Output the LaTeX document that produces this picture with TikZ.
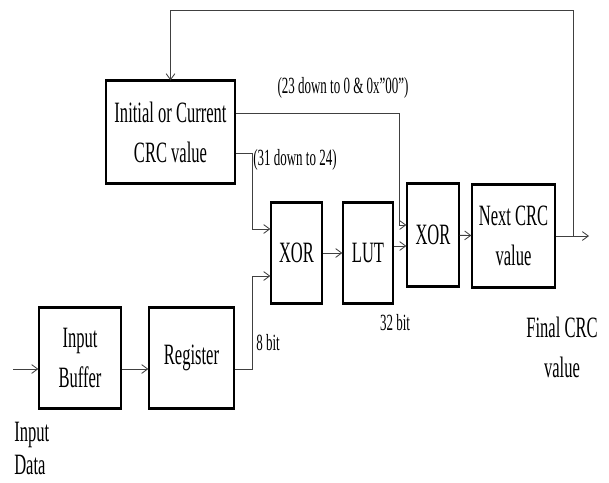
\documentclass[tikz,border=0pt]{standalone}
\usepackage{fontspec}
\setmainfont[FakeStretch=0.56]{Liberation Serif}
\usetikzlibrary{arrows.meta, calc, positioning}

\begin{document}
\begin{tikzpicture}[x=0.025cm, y=-0.025cm, font=\fontsize{21}{28.5}\selectfont,
	blk/.style={rectangle, draw=black, line width=0.9pt, minimum height=25mm, align=center, inner sep=1pt},
	fl/.style={-{Straight Barb[length=1.5mm, width=2.2mm]}, line width=0.6pt, black!75},
	lbl/.style={font=\fontsize{16.5}{20}\selectfont, inner sep=0pt}]

	\useasboundingbox (0,0) rectangle (609,482);

	\node[blk, minimum width=32.25mm, minimum height=25.5mm] (init) at (170.5,132) {Initial or Current\\CRC value};
	\node[blk, minimum width=20.5mm]  (buf) at (80,358)    {Input\\Buffer};
	\node[blk, minimum width=21.25mm] (reg) at (191.5,358) {Register};
	\node[blk, minimum width=12.75mm] (xa)  at (296.5,253) {XOR};
	\node[blk, minimum width=12.5mm]  (lut) at (368,253)   {LUT};
	\node[blk, minimum width=13mm, minimum height=25.5mm]    (xb)  at (433,235)   {XOR};
	\node[blk, minimum width=20.75mm, minimum height=25.5mm] (nxt) at (513.5,236) {Next CRC\\value};

	% bordes superior e inferior mas gruesos
	\foreach \b in {init,buf,reg,xa,lut,xb,nxt}{
		\draw[line width=2.2pt] (\b.north west) -- (\b.north east);
		\draw[line width=2.2pt] (\b.south west) -- (\b.south east);}

	% puntos de quiebre de las conexiones
	\coordinate (din)  at (13,369);
	\coordinate (j8)   at (252,276);
	\coordinate (j31)  at (252,229);
	\coordinate (j23)  at (399,225);
	\coordinate (tap)  at (573,236);
	\coordinate (fout) at (589,236);
	\coordinate (ftop) at (170.5,10);

	\draw[fl] (din) -- (din -| buf.west);
	\draw[fl] (buf.east |- din) -- (reg.west |- din);
	\draw[fl] (reg.east |- din) -| (j8) -- (j8 -| xa.west);
	\draw[fl] ($(init.east)+(0,21)$) -| (j31) -- (j31 -| xa.west);
	\draw[fl] ($(init.east)+(0,-19)$) -| (j23) -- (j23 -| xb.west);
	\draw[fl] (xa) -- (lut);
	\draw[fl] ($(lut.east)+(0,-7)$) coordinate (l1) -- (l1 -| xb.west);
	\draw[fl] (xb) -- (nxt);
	\draw[fl] (nxt.east) -- (fout);
	\draw[fl] (tap) |- (ftop) -- (init);

	\node[lbl] (l23) at (343,88) {(23 down to 0 \& 0x”00”)};
	\node[lbl, anchor=west] (l31) at (253,160) {(31 down to 24)};
	\node[lbl, anchor=west] (l8)  at (256,343) {8 bit};
	\node[lbl] (l32) at (395,323) {32 bit};
	\node[align=center] (fcrc) at (562,347) {Final CRC\\value};
	\node[align=left, anchor=west, inner sep=0pt] (dlbl) at (14,448) {Input\\[-5pt]Data};
\end{tikzpicture}
\end{document}
